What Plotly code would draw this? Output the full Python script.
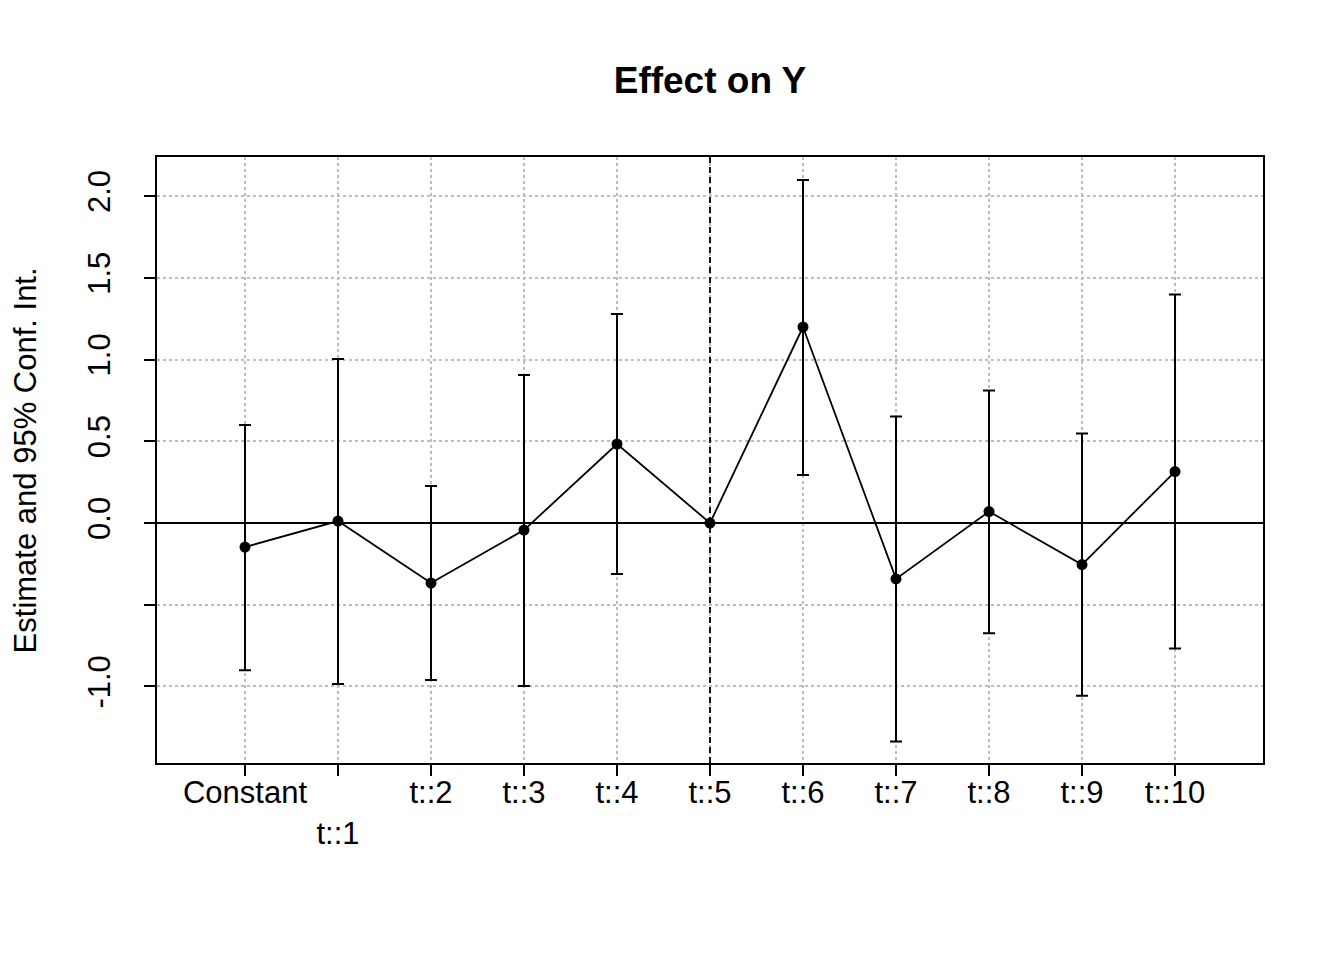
import plotly.graph_objects as go

# coefficient labels and estimates
labels = ["Constant", "t::1", "t::2", "t::3", "t::4", "t::5",
          "t::6", "t::7", "t::8", "t::9", "t::10"]
estimate = [-0.147, 0.012, -0.367, -0.043, 0.483, 0.0,
            1.199, -0.342, 0.070, -0.254, 0.315]
ci_low = [-0.900, -0.985, -0.960, -0.997, -0.312, 0.0,
          0.294, -1.337, -0.675, -1.056, -0.768]
ci_high = [0.600, 1.003, 0.226, 0.905, 1.278, 0.0,
           2.098, 0.652, 0.810, 0.547, 1.398]

# reference period (dashed line)
ref_label = "t::5"

y_ticks = [-1.0, -0.5, 0.0, 0.5, 1.0, 1.5, 2.0]
y_ticktext = ["-1.0", "", "0.0", "0.5", "1.0", "1.5", "2.0"]

x_pos = list(range(len(labels)))
# R staggers overlapping labels: t::1 drops to a second line
x_ticktext = ["<br>" + lab if lab == "t::1" else lab for lab in labels]

err_plus = [h - e for h, e in zip(ci_high, estimate)]
err_minus = [e - l for e, l in zip(estimate, ci_low)]
has_ci = [not (h == 0 and l == 0) for h, l in zip(ci_high, ci_low)]
err_plus = [p if c else None for p, c in zip(err_plus, has_ci)]
err_minus = [m if c else None for m, c in zip(err_minus, has_ci)]

FONT = "Liberation Sans, Arial, Helvetica, sans-serif"

fig = go.Figure()

fig.add_trace(go.Scatter(
    x=x_pos, y=estimate,
    mode="lines+markers",
    line=dict(color="black", width=1.8),
    marker=dict(color="black", size=11),
    error_y=dict(type="data", symmetric=False,
                 array=err_plus, arrayminus=err_minus,
                 color="black", thickness=2, width=6),
    showlegend=False,
    hoverinfo="skip",
))

# zero line and reference period line
fig.add_hline(y=0, line=dict(color="black", width=1.8))
fig.add_vline(x=labels.index(ref_label),
              line=dict(color="black", width=1.8, dash="6px,4px"))

fig.update_xaxes(
    range=[-0.946, 10.946],
    tickmode="array", tickvals=x_pos, ticktext=x_ticktext,
    ticks="outside", ticklen=11, tickwidth=2, tickcolor="black",
    ticklabelstandoff=-10,
    showgrid=True, gridcolor="#BEBEBE", gridwidth=1.5, griddash="3px,3px",
    zeroline=False, showline=True, linecolor="black", linewidth=2,
    mirror=True,
    tickfont=dict(family=FONT, size=31, color="black"),
)
fig.update_yaxes(
    range=[-1.468, 2.239],
    tickmode="array", tickvals=y_ticks, ticktext=y_ticktext,
    tickangle=-90,
    ticks="outside", ticklen=11, tickwidth=2, tickcolor="black",
    ticklabelstandoff=22,
    showgrid=True, gridcolor="#BEBEBE", gridwidth=1.5, griddash="3px,3px",
    zeroline=False, showline=True, linecolor="black", linewidth=2,
    mirror=True,
    tickfont=dict(family=FONT, size=31, color="black"),
)

fig.add_annotation(
    text="Estimate and 95% Conf. Int.",
    xref="paper", yref="paper", x=-0.119, y=0.5,
    xanchor="center", yanchor="middle",
    textangle=-90, showarrow=False,
    font=dict(family=FONT, size=31, color="black"),
)

fig.update_layout(
    width=1344, height=960,
    margin=dict(l=157, r=81, t=157, b=197),
    paper_bgcolor="white", plot_bgcolor="white",
    title=dict(text="<b>Effect on Y</b>", x=0.5, xref="paper",
               y=1 - 80 / 960, yref="container", yanchor="middle",
               font=dict(family=FONT, size=37, color="black")),
)

fig.write_html("out.html", config={"displayModeBar": False},
               post_script="document.body.style.margin='0';")
